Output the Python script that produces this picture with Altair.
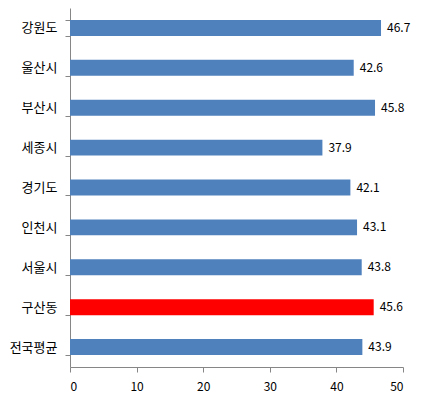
import altair as alt
import pandas as pd

regions = ["강원도", "울산시", "부산시", "세종시", "경기도", "인천시", "서울시", "구산동", "전국평균"]
values = [46.7, 42.6, 45.8, 37.9, 42.1, 43.1, 43.8, 45.6, 43.9]
colors = ["#4F81BD", "#4F81BD", "#4F81BD", "#4F81BD", "#4F81BD", "#4F81BD", "#4F81BD", "#FF0000", "#4F81BD"]
x_ticks = [0, 10, 20, 30, 40, 50]

df = pd.DataFrame({"region": regions, "value": values, "color": colors})
df["label"] = df["value"].map(lambda v: f"{v:.1f}")

FONT = "Noto Sans CJK KR"

y_enc = alt.Y("region:N", sort=regions, title=None,
              scale=alt.Scale(paddingInner=0.6, paddingOuter=0.3),
              axis=alt.Axis(tickBand="extent", labelFont=FONT, labelFontSize=13,
                            labelColor="black", domainColor="#868686", tickColor="#868686",
                            tickSize=5, labelPadding=8, grid=False))

bars = alt.Chart(df).mark_bar().encode(
    y=y_enc,
    x=alt.X("value:Q", title=None,
            scale=alt.Scale(domain=[0, 50], nice=False),
            axis=alt.Axis(values=x_ticks, labelFont=FONT, labelFontSize=12, labelColor="black",
                          domainColor="#868686", tickColor="#868686", tickSize=5,
                          labelPadding=9, grid=False)),
    color=alt.Color("color:N", scale=None),
)

text = alt.Chart(df).mark_text(align="left", dx=6, font=FONT, fontSize=12, color="black").encode(
    y=alt.Y("region:N", sort=regions),
    x="value:Q",
    text="label:N",
)

chart = (bars + text).properties(
    width=333, height=359,
    autosize=alt.AutoSizeParams(type="none"),
    padding={"left": 62, "top": 0, "right": 10, "bottom": 30},
).configure_view(stroke=None)

chart.save("out.html", embed_options={"renderer": "svg", "actions": False})
